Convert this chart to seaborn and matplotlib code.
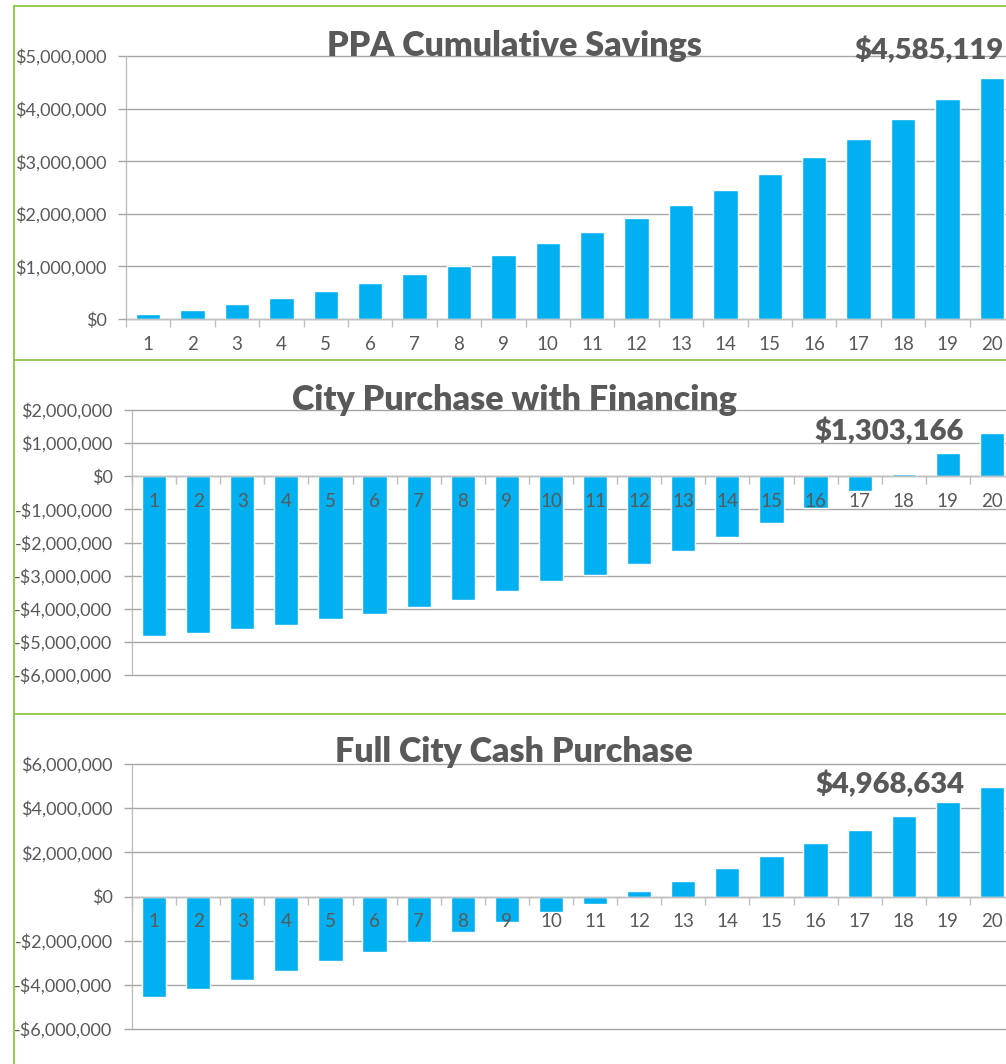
import numpy as np
import pandas as pd
import matplotlib
matplotlib.use("Agg")
import matplotlib.pyplot as plt
from matplotlib.lines import Line2D
from matplotlib.ticker import FuncFormatter, FixedLocator
import seaborn as sns

# ---------------- data ----------------
years = [str(i) for i in range(1, 21)]

ppa_savings = [90000, 170000, 280000, 400000, 530000, 680000, 850000, 1010000,
               1220000, 1440000, 1650000, 1920000, 2170000, 2450000, 2760000,
               3080000, 3420000, 3800000, 4180000, 4585119]

financing = [-4830000, -4730000, -4610000, -4490000, -4310000, -4160000,
             -3950000, -3740000, -3470000, -3170000, -2990000, -2660000,
             -2260000, -1840000, -1420000, -960000, -450000, 70000,
             690000, 1303166]

cash_purchase = [-4570000, -4200000, -3790000, -3390000, -2940000, -2520000,
                 -2070000, -1620000, -1170000, -720000, -320000, 230000,
                 720000, 1310000, 1850000, 2430000, 3020000, 3650000,
                 4280000, 4968634]

titles = ["PPA Cumulative Savings", "City Purchase with Financing",
          "Full City Cash Purchase"]
callouts = ["$4,585,119", "$1,303,166", "$4,968,634"]
y_ticks = [list(range(0, 5000001, 1000000)),
           list(range(-6000000, 2000001, 1000000)),
           list(range(-6000000, 6000001, 2000000))]

# ---------------- style ----------------
sns.set_theme(style="white")
plt.rcParams["font.family"] = ["Lato", "DejaVu Sans"]

BAR = "#00B0F0"
TXT = "#595959"
GRID = "#A6A6A6"
AXLINE = "#BFBFBF"
GREEN = "#8DC63F"

W, H = 1006, 1064
fig = plt.figure(figsize=(W / 100, H / 100), dpi=100)
fig.patch.set_facecolor("white")


def px_box(left, top, right, bottom):
    return [left / W, 1 - bottom / H, (right - left) / W, (bottom - top) / H]


def money(v, pos=None):
    v = int(round(v))
    if v < 0:
        return "-${:,}".format(-v)
    return "${:,}".format(v)


boxes = [px_box(126, 56, 1014, 319),
         px_box(132, 410, 1014, 675),
         px_box(132, 764, 1014, 1029)]
series = [ppa_savings, financing, cash_purchase]
title_y = [46, 400, 752]
callout_pos = [(19.27, 5.11e6), (18.37, 1.36e6), (18.37, 5.06e6)]

for k in range(3):
    ax = fig.add_axes(boxes[k])
    df = pd.DataFrame({"year": years, "value": series[k]})
    sns.barplot(data=df, x="year", y="value", color=BAR, saturation=1,
                width=0.55, ax=ax, zorder=1)
    ax.set_xlim(-0.5, 19.5)
    ax.set_ylim(y_ticks[k][0], y_ticks[k][-1])
    ax.set_xlabel("")
    ax.set_ylabel("")
    ax.set_axisbelow(False)
    for t in y_ticks[k]:
        ax.axhline(t, color=GRID, lw=1.0, zorder=0.5, clip_on=False)

    ax.yaxis.set_major_locator(FixedLocator(y_ticks[k]))
    ax.yaxis.set_major_formatter(FuncFormatter(money))
    ax.tick_params(axis="y", which="major", length=6, width=1.0, color=GRID,
                   direction="out", pad=8, labelsize=13, labelcolor=TXT,
                   left=True)

    ax.set_xticks(range(20))
    ax.set_xticklabels(years)
    ax.set_xticks(np.arange(-0.5, 20, 1.0), minor=True)
    ax.tick_params(axis="x", which="major", length=0, pad=12, labelsize=13.5,
                   labelcolor=TXT)
    ax.tick_params(axis="x", which="minor", length=6, width=1.0,
                   color=AXLINE, direction="out", bottom=True)

    for s in ["top", "right"]:
        ax.spines[s].set_visible(False)
    ax.spines["left"].set_color(AXLINE)
    ax.spines["left"].set_linewidth(1.0)
    ax.spines["bottom"].set_color(AXLINE)
    ax.spines["bottom"].set_linewidth(1.0)
    if k > 0:
        ax.spines["bottom"].set_position(("data", 0))

    cx, cy = callout_pos[k]
    ax.text(cx, cy, callouts[k], ha="right", va="center", fontsize=21,
            fontweight="heavy", color=TXT, clip_on=False, zorder=5)

    fig.text(514 / W, 1 - title_y[k] / H, titles[k], ha="center",
             va="center", fontsize=24.5, fontweight="heavy", color=TXT)

# green panel borders
for y in [6, 360, 714]:
    fig.add_artist(Line2D([14 / W, 1.0], [1 - y / H, 1 - y / H],
                          transform=fig.transFigure, color=GREEN, lw=1.3))
fig.add_artist(Line2D([14 / W, 14 / W], [0, 1 - 6 / H],
                      transform=fig.transFigure, color=GREEN, lw=1.3))

fig.savefig("out.png", dpi=100, facecolor="white")
